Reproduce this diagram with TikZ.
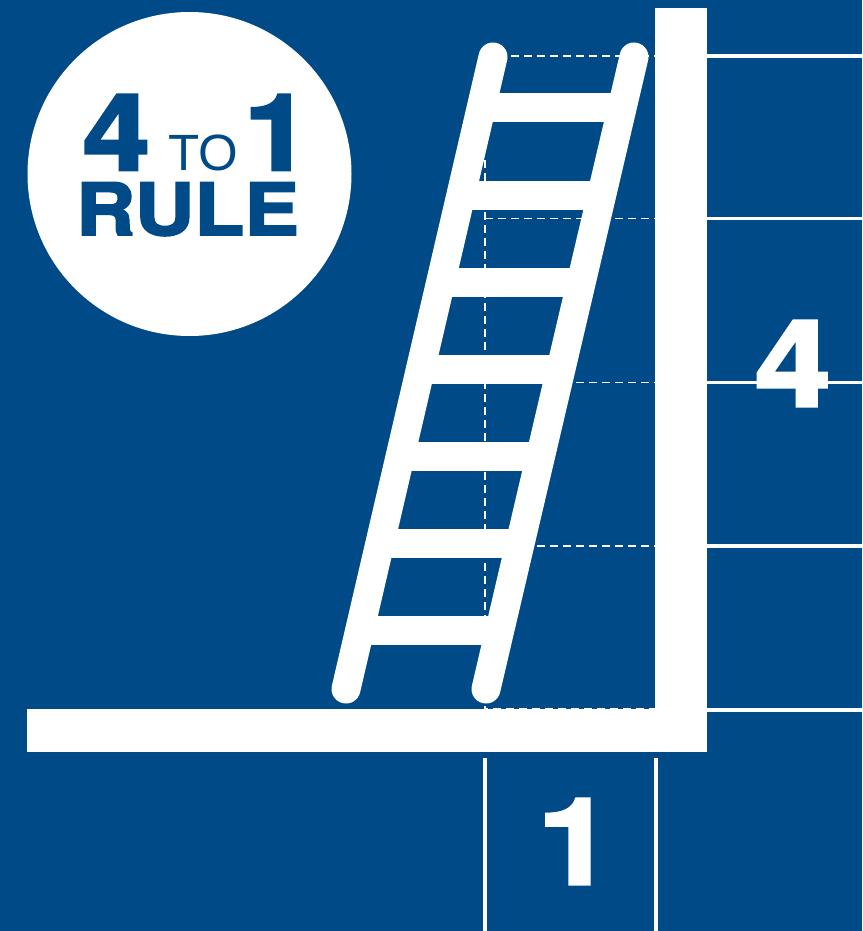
\documentclass[tikz,border=0pt]{standalone}
\usepackage{fontspec}
\setmainfont{Liberation Sans}
\newfontfamily\heavyfont[FakeBold=2.6,FakeStretch=1.14]{TeX Gyre Heros Bold}
\newfontfamily\thinfont{Liberation Sans}
\definecolor{ruleblue}{HTML}{004B87}

\begin{document}
\begin{tikzpicture}[x=1pt,y=-1pt,
  rail/.style={white,line width=29pt,line cap=round},
  rung/.style={white,line width=29pt},
  guide/.style={white,line width=1.7pt,dash pattern=on 8pt off 5pt},
  tick/.style={white,line width=3.8pt},
  numeral/.style={white,inner sep=0pt,anchor=base,font=\heavyfont\fontsize{120}{120}\selectfont},
  badge/.style={ruleblue,inner sep=0pt,anchor=base}]
  \useasboundingbox[fill=ruleblue] (0,0) rectangle (862,931);

  % measuring lines
  \foreach \y in {56,218.5,382.5,546,710}
    \draw[tick] (707,\y) -- (862,\y);
  \foreach \x in {485,656}
    \draw[tick,line width=3.3pt] (\x,758) -- (\x,931);
  \foreach \y in {56,218.5,382.5,546}
    \draw[guide] (485,\y) -- (655,\y);
  \draw[guide] (485,160) -- (485,709);
  \draw[guide,line width=.8pt] (655,56) -- (655,708) -- (485,708);

  % wall and floor
  \fill[white] (655,8) rectangle (707,752);
  \fill[white] (27,709) rectangle (707,752);

  % ladder
  \draw[rail] (493,57) -- (346,689);
  \draw[rail] (634,57) -- (486,689);
  \foreach \y in {108,195.5,282.5,369.5,456.5,543.5,630.5}
    \draw[rung] ({493-(\y-57)*.2326},\y) -- ({634-(\y-57)*.2326},\y);

  % badge
  \fill[white] (189.5,174) circle (162);
  \node[badge,font=\heavyfont\fontsize{106}{106}\selectfont] (four) at (116.5,170) {4};
  \node[badge,font=\thinfont\fontsize{51}{51}\selectfont] (to) at (203,170) {TO};
  \node[badge,font=\heavyfont\fontsize{106}{106}\selectfont] (one) at (277.5,170) {1};
  \node[badge,font=\heavyfont\fontsize{72}{72}\selectfont] (rule) at (187.5,235) {RULE};

  % dimensions
  \node[numeral] (height) at (793,406) {4};
  \node[numeral] (width) at (575.5,884) {1};
\end{tikzpicture}
\end{document}
